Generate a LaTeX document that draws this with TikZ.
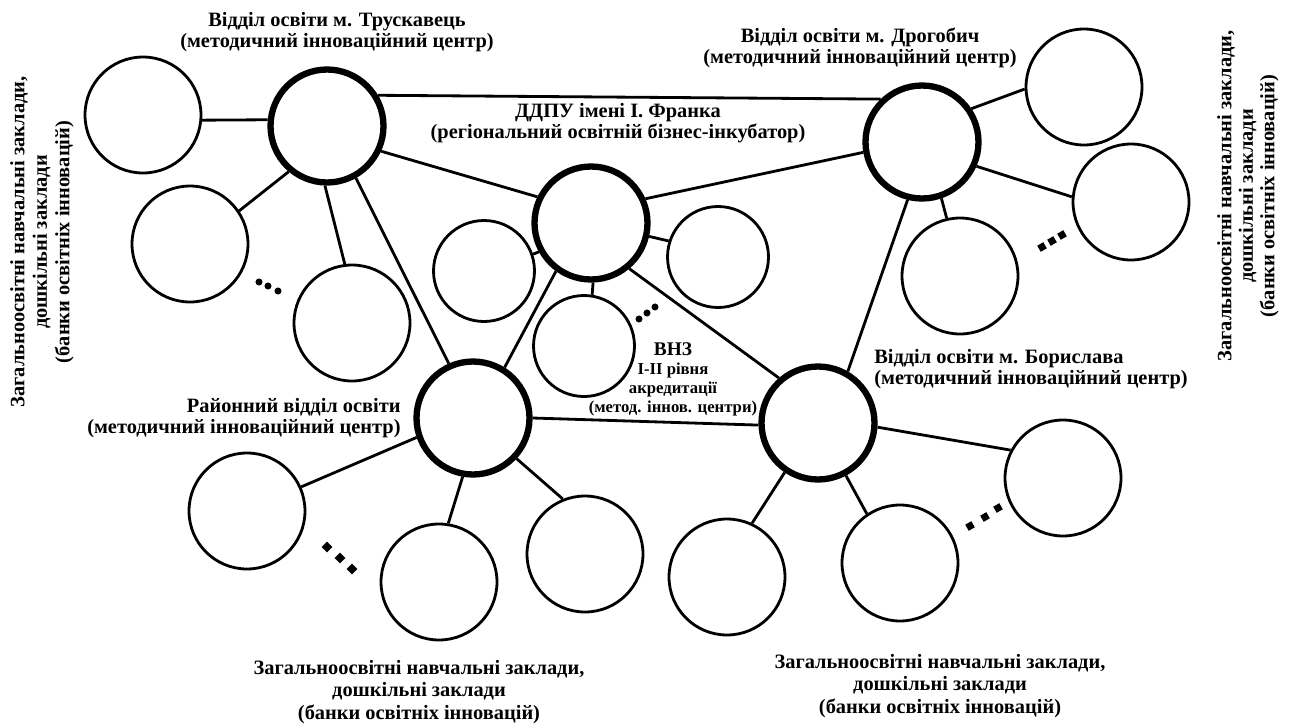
\documentclass[tikz,border=0pt]{standalone}
\usepackage{fontspec}
\setmainfont{Liberation Serif}
\usetikzlibrary{positioning}

\begin{document}
\begin{tikzpicture}[x=0.02cm,y=-0.02cm,
        hub/.style={circle,draw,line width=3.6pt,minimum size=2.26cm,inner sep=0pt},
        sat/.style={circle,draw,line width=1.6pt,minimum size=2.32cm,inner sep=0pt},
        smallsat/.style={sat,minimum size=2.02cm},
        lbl/.style={font=\bfseries\fontsize{11.6}{12.2}\selectfont,align=center,inner sep=0pt},
        banks/.style={lbl,font=\bfseries\fontsize{11.6}{12.8}\selectfont},
        vnz/.style={font=\bfseries\fontsize{9.5}{10.8}\selectfont,align=center,inner sep=0pt},
        link/.style={line width=1.6pt}]
        \useasboundingbox (0,0) rectangle (1294,727);

        % hubs
        \node[hub] (T) at (327,126) {};
        \node[hub] (D) at (591,223) {};
        \node[hub] (G) at (922,142) {};
        \node[hub] (R) at (473,418) {};
        \node[hub] (B) at (818,423) {};

        % satellites
        \node[sat] (T1) at (143,115) {};
        \node[sat] (T2) at (190,244) {};
        \node[sat] (T3) at (352,323) {};
        \node[smallsat] (D1) at (484,271) {};
        \node[smallsat] (D2) at (718,257) {};
        \node[smallsat] (D3) at (584,346) {};
        \node[sat] (G1) at (1084,87) {};
        \node[sat] (G2) at (1131,202) {};
        \node[sat] (G3) at (960,276) {};
        \node[sat] (R1) at (247,511) {};
        \node[sat] (R2) at (439,582) {};
        \node[sat] (R3) at (585,554) {};
        \node[sat] (B1) at (727,577) {};
        \node[sat] (B2) at (900,563) {};
        \node[sat] (B3) at (1063,478) {};

        % links between hubs
        \draw[link] (T.31) -- (G.134);
        \draw[link] (T.-25) -- (D.154);
        \draw[link] (T.-61) -- (R.114);
        \draw[link] (G.190) -- (D.24);
        \draw[link] (G.256) -- (B.60);
        \draw[link] (D.234) -- (R.58);
        \draw[link] (D.-50) -- (B.131);
        \draw[link] (R.0) -- (B.182);

        % links to satellites
        \draw[link] (T.174) -- (T1.-5);
        \draw[link] (T.230) -- (T2.34);
        \draw[link] (T.-92) -- (T3.97);
        \draw[link] (D.209) -- (D1.19);
        \draw[link] (D.-13) -- (D2.162);
        \draw[link] (D.-88) -- (D3.81);
        \draw[link] (G.34) -- (G1.182);
        \draw[link] (G.-24) -- (G2.175);
        \draw[link] (G.-71) -- (G3.103);
        \draw[link] (R.199) -- (R1.24);
        \draw[link] (R.-100) -- (R2.81);
        \draw[link] (R.-43) -- (R3.112);
        \draw[link] (B.236) -- (B1.65);
        \draw[link] (B.-62) -- (B2.124);
        \draw[link] (B.-4) -- (B3.152);

        % dots
        \foreach \x/\y in {259/282,268/286,278/291,639/319,647/313,655/307}
            \fill (\x,\y) circle (2pt);
        \foreach \x/\y in {327/547,340/558,352/569}
            \fill[shift={(\x,\y)},rotate=45] (-2.2pt,-2.2pt) rectangle (2.2pt,2.2pt);
        \foreach \x/\y in {1042/247,1052/241,1062/235,970/526,985/517,998/508}
            \fill[shift={(\x,\y)},rotate=30] (-2pt,-2pt) rectangle (2pt,2pt);

        % labels
        \node[lbl] (tT) at (337,32) {Відділ освіти м. Трускавець\\(методичний інноваційний центр)};
        \node[lbl] (tD) at (618,123) {ДДПУ імені І. Франка\\(регіональний освітній бізнес-інкубатор)};
        \node[lbl] (tG) at (860,48) {Відділ освіти м. Дрогобич\\(методичний інноваційний центр)};
        \node[lbl,align=left,anchor=west] (tB) at (874,369) {Відділ освіти м. Борислава\\(методичний інноваційний центр)};
        \node[lbl,align=right,anchor=east] (tR) at (401,418) {Районний відділ освіти\\(методичний інноваційний центр)};
        \node[vnz] (tV) at (673,379) {{\fontsize{11}{12}\selectfont ВНЗ}\\І-ІІ рівня\\акредитації\\(метод. іннов. центри)};
        \node[banks,rotate=90] (bT) at (42,242) {Загальноосвітні навчальні заклади,\\дошкільні заклади\\(банки освітніх інновацій)};
        \node[lbl,rotate=90] (bG) at (1248,196) {Загальноосвітні навчальні заклади,\\дошкільні заклади\\(банки освітніх інновацій)};
        \node[banks] (bR) at (419,692) {Загальноосвітні навчальні заклади,\\дошкільні заклади\\(банки освітніх інновацій)};
        \node[banks] (bB) at (940,686) {Загальноосвітні навчальні заклади,\\дошкільні заклади\\(банки освітніх інновацій)};
    \end{tikzpicture}
\end{document}
